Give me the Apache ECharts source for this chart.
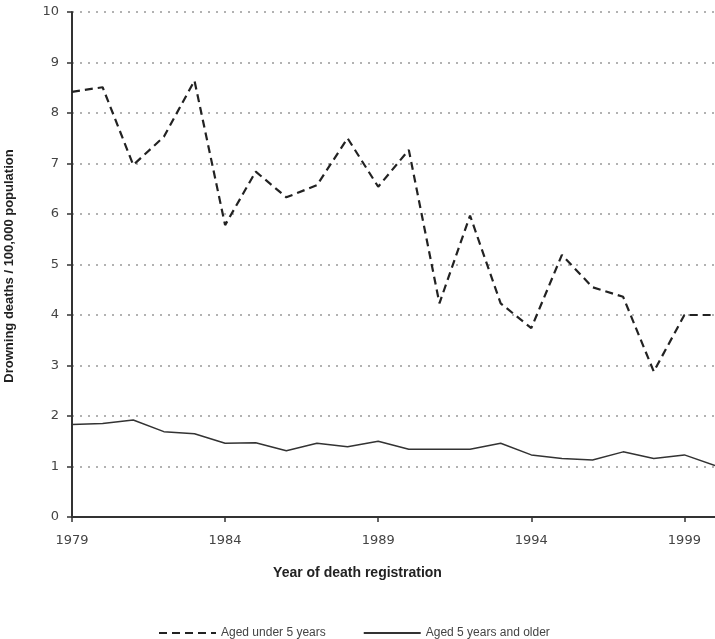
<!DOCTYPE html>
<html>
<head>
<meta charset="utf-8">
<script src="https://cdn.jsdelivr.net/npm/echarts@6/dist/echarts.min.js"></script>
<style>
html,body{margin:0;padding:0;background:#fff;}
#c{width:715px;height:639px;}
</style>
</head>
<body>
<div id="c"></div>
<script>
const years = ['1979','1980','1981','1982','1983','1984','1985','1986','1987','1988','1989','1990','1991','1992','1993','1994','1995','1996','1997','1998','1999','2000'];
const under5 = [8.42,8.51,6.97,7.53,8.64,5.78,6.84,6.33,6.57,7.50,6.54,7.27,4.23,5.97,4.23,3.74,5.19,4.55,4.36,2.88,4.00,4.00];
const over5 = [1.83,1.85,1.92,1.69,1.65,1.46,1.47,1.31,1.46,1.39,1.50,1.34,1.34,1.34,1.46,1.23,1.16,1.13,1.29,1.16,1.23,1.02];
const seriesNames = ['Aged under 5 years','Aged 5 years and older'];
const yTitle = 'Drowning deaths / 100,000 population';
const xTitle = 'Year of death registration';

const chart = echarts.init(document.getElementById('c'), null, {renderer:'canvas'});
const labelFont = {fontFamily:'DejaVu Sans', fontSize:13, color:'#444'};
chart.setOption({
  animation:false,
  backgroundColor:'#fff',
  color:['#222','#333'],
  grid:{left:72, right:-3, top:12, bottom:122},
  xAxis:{
    type:'category', data:years, boundaryGap:false,
    axisLine:{lineStyle:{color:'#333', width:2}},
    axisTick:{interval:4, length:5, lineStyle:{color:'#333', width:1.5}},
    axisLabel:Object.assign({interval:4, margin:17}, labelFont),
    splitLine:{show:false}
  },
  yAxis:{
    type:'value', min:0, max:10, interval:1,
    axisLine:{show:true, lineStyle:{color:'#333', width:2}},
    axisTick:{show:true, length:5, lineStyle:{color:'#333', width:1.5}},
    axisLabel:Object.assign({margin:13}, labelFont),
    splitLine:{show:true, lineStyle:{color:'#999', type:[2,6], width:1.5}}
  },
  legend:{
    left:153, top:622, itemWidth:57, itemHeight:10, itemGap:37,
    itemStyle:{opacity:0},
    textStyle:{fontFamily:'Liberation Sans', fontSize:12, color:'#444'},
    data:seriesNames
  },
  graphic:[
    {type:'text', left:'center', top:566, style:{text:xTitle, font:'bold 14px "Liberation Sans"', fill:'#222'}},
    {type:'text', rotation:Math.PI/2, x:9, y:266, style:{text:yTitle, font:'bold 13px "Liberation Sans"', fill:'#222', align:'center', verticalAlign:'middle'}}
  ],
  series:[
    {name:seriesNames[0], type:'line', data:under5, symbol:'none',
     itemStyle:{color:'#222'},
     lineStyle:{color:'#222', width:2.2, type:[8,5]}},
    {name:seriesNames[1], type:'line', data:over5, symbol:'none',
     itemStyle:{color:'#333'},
     lineStyle:{color:'#333', width:1.5}}
  ]
});
</script>
</body>
</html>
